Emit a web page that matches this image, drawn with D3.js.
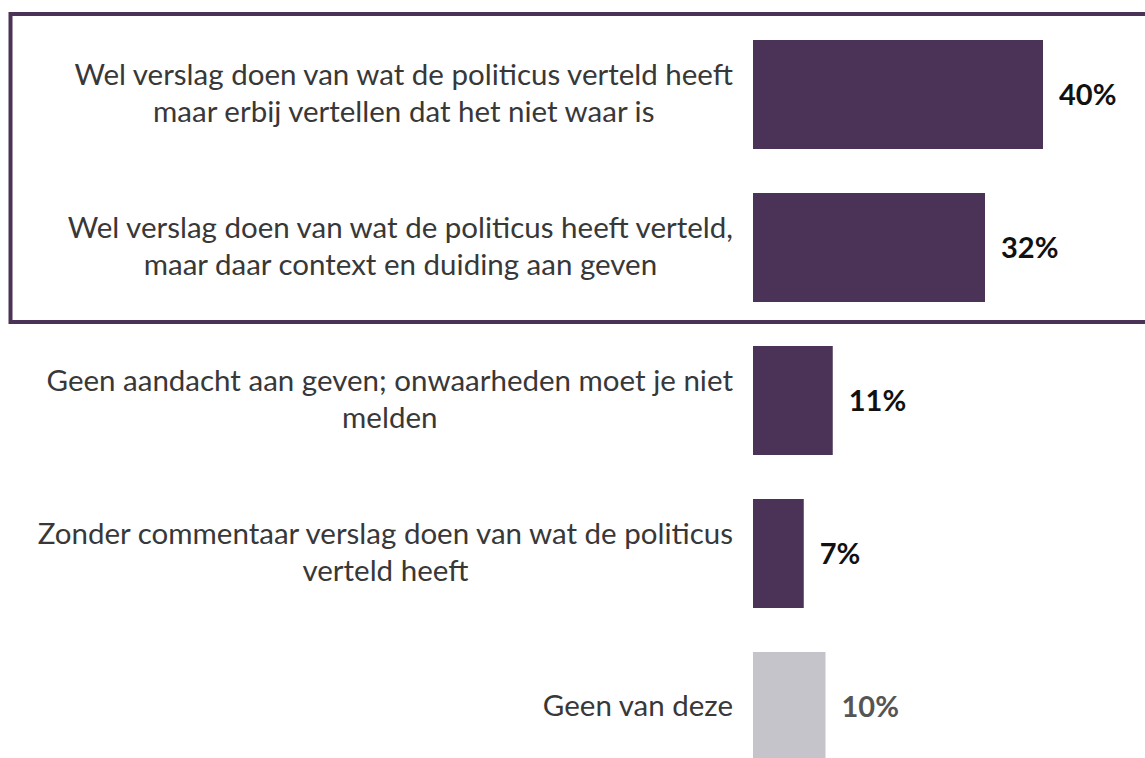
<!DOCTYPE html>
<html>
<head>
<meta charset="utf-8">
<script src="https://cdn.jsdelivr.net/npm/d3@7"></script>
<style>
  html, body { margin: 0; padding: 0; background: #ffffff; overflow: hidden; }
  svg { display: block; }
</style>
</head>
<body>
<svg id="chart" width="1145" height="758"></svg>
<script>
const categories = [
  ["Wel verslag doen van wat de politicus verteld heeft", "maar erbij vertellen dat het niet waar is"],
  ["Wel verslag doen van wat de politicus heeft verteld,", "maar daar context en duiding aan geven"],
  ["Geen aandacht aan geven; onwaarheden moet je niet", "melden"],
  ["Zonder commentaar verslag doen van wat de politicus", "verteld heeft"],
  ["Geen van deze"]
];
const values = [40, 32, 11, 7, 10];
const valueLabels = ["40%", "32%", "11%", "7%", "10%"];
const isNeutral = [false, false, false, false, true];

const svg = d3.select("#chart");
const barLeft = 753;
const x = d3.scaleLinear().domain([0, 40]).range([barLeft, 1043]);
const y = d3.scaleBand().domain(d3.range(values.length)).range([40, 761]).paddingInner(0.2876).paddingOuter(0);

const purple = "#4a3356";
const grey = "#c5c4ca";

// highlight box around first two items
svg.append("rect")
  .attr("x", 10.5).attr("y", 14)
  .attr("width", 1160).attr("height", 308)
  .attr("fill", "none")
  .attr("stroke", purple)
  .attr("stroke-width", 4);

const g = svg.append("g");

g.selectAll("rect.bar").data(values).join("rect")
  .attr("class", "bar")
  .attr("x", x(0))
  .attr("y", (d, i) => y(i))
  .attr("width", d => x(d) - x(0))
  .attr("height", y.bandwidth())
  .attr("fill", (d, i) => isNeutral[i] ? grey : purple);

g.selectAll("text.val").data(values).join("text")
  .attr("class", "val")
  .attr("x", d => x(d) + 16)
  .attr("y", (d, i) => y(i) + y.bandwidth() / 2 + 10.5)
  .attr("font-family", "Lato, sans-serif")
  .attr("font-weight", 700)
  .attr("font-size", 29)
  .attr("fill", (d, i) => isNeutral[i] ? "#555555" : "#111111")
  .text((d, i) => valueLabels[i]);

const lineStep = 37;
categories.forEach((lines, i) => {
  const cy = y(i) + y.bandwidth() / 2;
  const firstBaseline = cy + 9 - (lines.length - 1) * (lineStep / 2);
  const t = g.append("text")
    .attr("class", "cat")
    .attr("text-anchor", "middle")
    .attr("font-family", "Lato, sans-serif")
    .attr("font-size", 29.5)
    .attr("fill", "#383838");
  lines.forEach((ln, j) => {
    t.append("tspan").attr("y", firstBaseline + j * lineStep).text(ln);
  });
  const widths = [];
  t.selectAll("tspan").each(function() { widths.push(this.getComputedTextLength()); });
  const maxW = d3.max(widths);
  const center = 733 - maxW / 2;
  t.selectAll("tspan").attr("x", center);
});
</script>
</body>
</html>
